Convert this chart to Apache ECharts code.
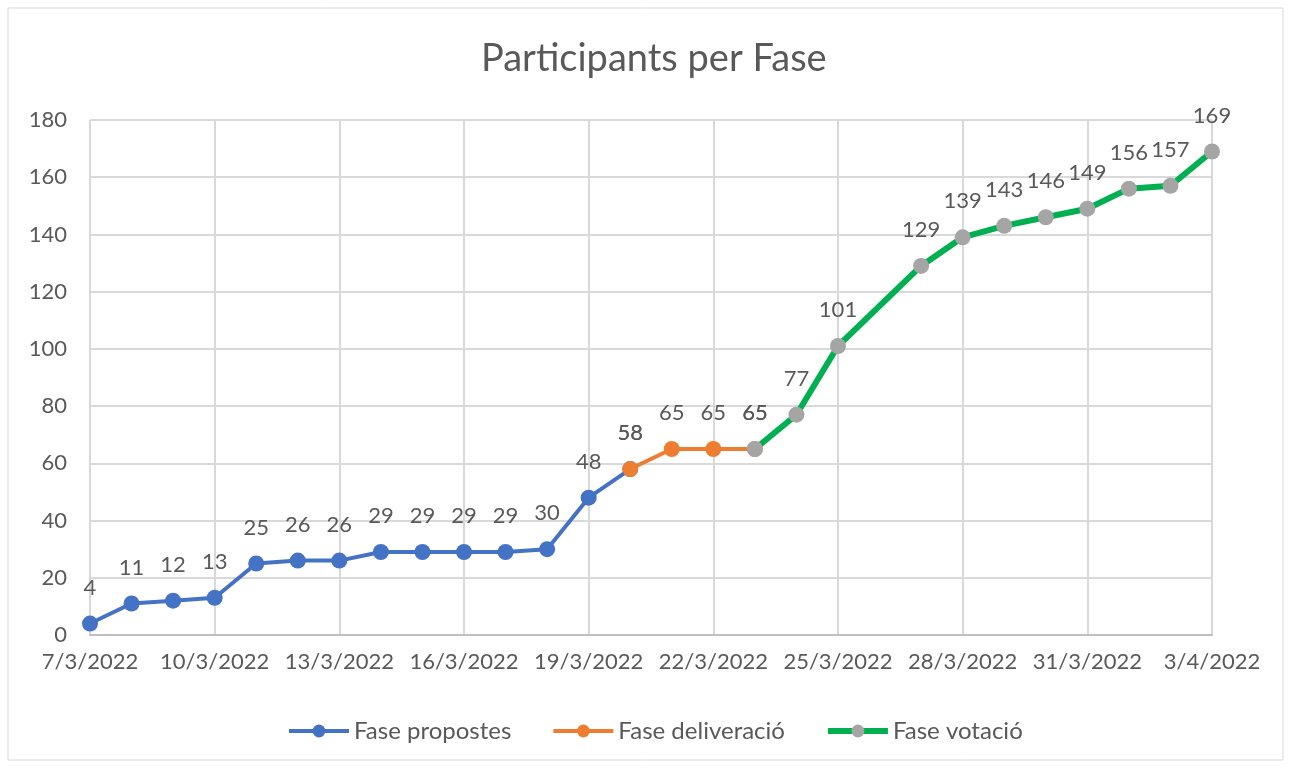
<!DOCTYPE html>
<html>
<head>
<meta charset="utf-8">
<script src="https://cdn.jsdelivr.net/npm/echarts@6/dist/echarts.min.js"></script>
<style>
  html, body { margin: 0; padding: 0; background: #fff; }
  #chart { width: 1290px; height: 769px; }
</style>
</head>
<body>
<div id="chart"></div>
<script>
const dates = ['7/3/2022', '8/3/2022', '9/3/2022', '10/3/2022', '11/3/2022', '12/3/2022', '13/3/2022',
  '14/3/2022', '15/3/2022', '16/3/2022', '17/3/2022', '18/3/2022', '19/3/2022', '20/3/2022',
  '21/3/2022', '22/3/2022', '23/3/2022', '24/3/2022', '25/3/2022', '26/3/2022', '27/3/2022',
  '28/3/2022', '29/3/2022', '30/3/2022', '31/3/2022', '1/4/2022', '2/4/2022', '3/4/2022']

const propostes = [4, 11, 12, 13, 25, 26, 26, 29, 29, 29, 29, 30, 48, 58,
  null, null, null, null, null, null, null, null, null, null, null, null, null, null]
const deliberacio = [null, null, null, null, null, null, null, null, null, null, null, null, null, 58,
  65, 65, 65, null, null, null, null, null, null, null, null, null, null, null]
const votacio = [null, null, null, null, null, null, null, null, null, null, null, null, null, null,
  null, null, 65, 77, 101, null, 129, 139, 143, 146, 149, 156, 157, 169]

const textColor = '#595959'
const font = 'Lato'

function lineSeries(name, data, lineColor, markerColor, width) {
  return {
    name: name,
    type: 'line',
    data: data,
    connectNulls: true,
    symbol: 'circle',
    symbolSize: 16,
    lineStyle: {color: lineColor, width: width},
    itemStyle: {color: markerColor},
    label: {
      show: true,
      position: 'top',
      distance: 17,
      color: textColor,
      fontFamily: font,
      fontSize: 22
    },
    emphasis: {disabled: true}
  }
}

const chart = echarts.init(document.getElementById('chart'))
chart.setOption({
  animation: false,
  textStyle: {fontFamily: font},
  graphic: [{
    type: 'rect',
    shape: {x: 8, y: 8, width: 1275, height: 752},
    style: {fill: 'none', stroke: '#d9d9d9', lineWidth: 1},
    silent: true
  }],
  title: {
    text: 'Participants per Fase',
    left: 476,
    top: 35,
    textStyle: {color: textColor, fontFamily: font, fontSize: 38, fontWeight: 'normal'}
  },
  legend: {
    bottom: 21,
    left: 282,
    itemWidth: 60,
    itemHeight: 16,
    itemGap: 40,
    textStyle: {color: textColor, fontFamily: font, fontSize: 24},
    data: [
      {name: 'Fase propostes', lineStyle: {width: 4}},
      {name: 'Fase deliveració', lineStyle: {width: 4}},
      {name: 'Fase votació', lineStyle: {width: 6}}
    ]
  },
  grid: {left: 90, right: 78, top: 120, bottom: 134},
  xAxis: {
    type: 'category',
    data: dates,
    boundaryGap: false,
    axisLine: {lineStyle: {color: '#bfbfbf', width: 2}},
    axisTick: {show: false},
    axisLabel: {interval: 2, color: textColor, fontFamily: font, fontSize: 22, margin: 16},
    splitLine: {show: true, interval: 2, lineStyle: {color: '#d9d9d9', width: 2}}
  },
  yAxis: {
    type: 'value',
    min: 0,
    max: 180,
    interval: 20,
    axisLine: {show: false},
    axisTick: {show: false},
    axisLabel: {color: textColor, fontFamily: font, fontSize: 22, margin: 23},
    splitLine: {lineStyle: {color: '#d9d9d9', width: 2}}
  },
  series: [
    lineSeries('Fase propostes', propostes, '#4472c4', '#4472c4', 4),
    lineSeries('Fase deliveració', deliberacio, '#ed7d31', '#ed7d31', 4),
    lineSeries('Fase votació', votacio, '#00b050', '#a5a5a5', 6)
  ]
})
</script>
</body>
</html>
